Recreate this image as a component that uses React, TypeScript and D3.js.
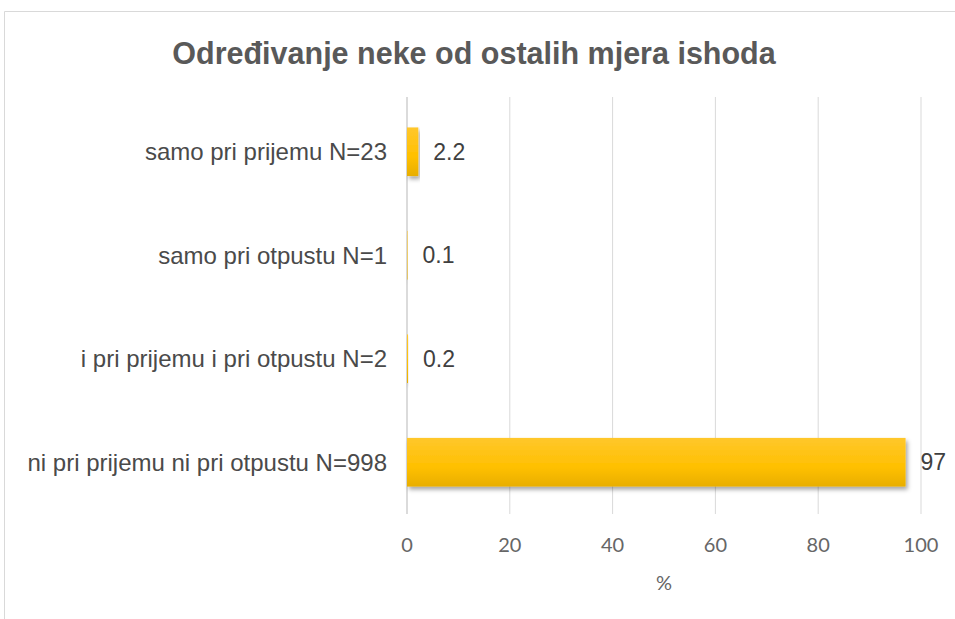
import React from "react";
import * as d3 from "d3";

const categories = [
  "samo pri prijemu N=23",
  "samo pri otpustu N=1",
  "i pri prijemu i pri otpustu N=2",
  "ni pri prijemu ni pri otpustu N=998",
];
const values = [2.2, 0.1, 0.2, 97];
const valueLabels = ["2.2", "0.1", "0.2", "97"];
const ticks = [0, 20, 40, 60, 80, 100];
const title = "Određivanje neke od ostalih mjera ishoda";
const axisTitle = "%";

export default function App() {
  const W = 955, H = 619;
  const x = d3.scaleLinear().domain([0, 100]).range([407, 921]);
  const y = d3.scaleBand().domain(categories).range([100, 514]).paddingInner(0.53).paddingOuter(0.265);
  return (
    <svg width={W} height={H} style={{ position: "absolute", left: 0, top: 0 }}>
      <defs>
        <linearGradient id="barGrad" x1="0" y1="0" x2="0" y2="1">
          <stop offset="0" stopColor="#FFC72C" />
          <stop offset="0.6" stopColor="#FFC000" />
          <stop offset="1" stopColor="#E8AE00" />
        </linearGradient>
        <filter id="shadow" x="-5%" y="-20%" width="115%" height="160%">
          <feDropShadow dx="2" dy="3" stdDeviation="2" floodColor="#000" floodOpacity="0.35" />
        </filter>
      </defs>
      <rect x={0} y={0} width={W} height={H} fill="#fff" />
      <path d={`M4.5,${H}V11.5H${W}`} fill="none" stroke="#d9d9d9" strokeWidth={1} />
      <text x={474} y={64} textAnchor="middle" fontFamily="Liberation Sans, Arial, sans-serif" fontWeight="bold" fontSize={30.5} fill="#595959">{title}</text>
      {ticks.map((t) => (
        <line key={"g" + t} x1={x(t)} x2={x(t)} y1={97} y2={514} stroke={t === 0 ? "#cfcfcf" : "#d9d9d9"} strokeWidth={t === 0 ? 1.5 : 1} />
      ))}
      {categories.map((c, i) => (
        <g key={c}>
          <rect x={x(0)} y={y(c)!} width={Math.max(x(values[i]) - x(0), 0.5)} height={y.bandwidth()} fill="url(#barGrad)" filter="url(#shadow)" />
          <text x={387} y={y(c)! + y.bandwidth() / 2} dy="0.35em" textAnchor="end" fontFamily="Liberation Sans, Arial, sans-serif" fontSize={24} fill="#4a4a4a">{c}</text>
          <text x={x(values[i]) + 15} y={y(c)! + y.bandwidth() / 2} dy="0.35em" fontFamily="Liberation Sans, Arial, sans-serif" fontSize={23} fill="#404040">{valueLabels[i]}</text>
        </g>
      ))}
      {ticks.map((t) => (
        <text key={"t" + t} x={x(t)} y={552} textAnchor="middle" fontFamily="Lato, Open Sans, sans-serif" fontSize={20} fill="#666">{t}</text>
      ))}
      <text x={x(50)} y={590} textAnchor="middle" fontFamily="Lato, Open Sans, sans-serif" fontSize={20} fill="#666">{axisTitle}</text>
    </svg>
  );
}
